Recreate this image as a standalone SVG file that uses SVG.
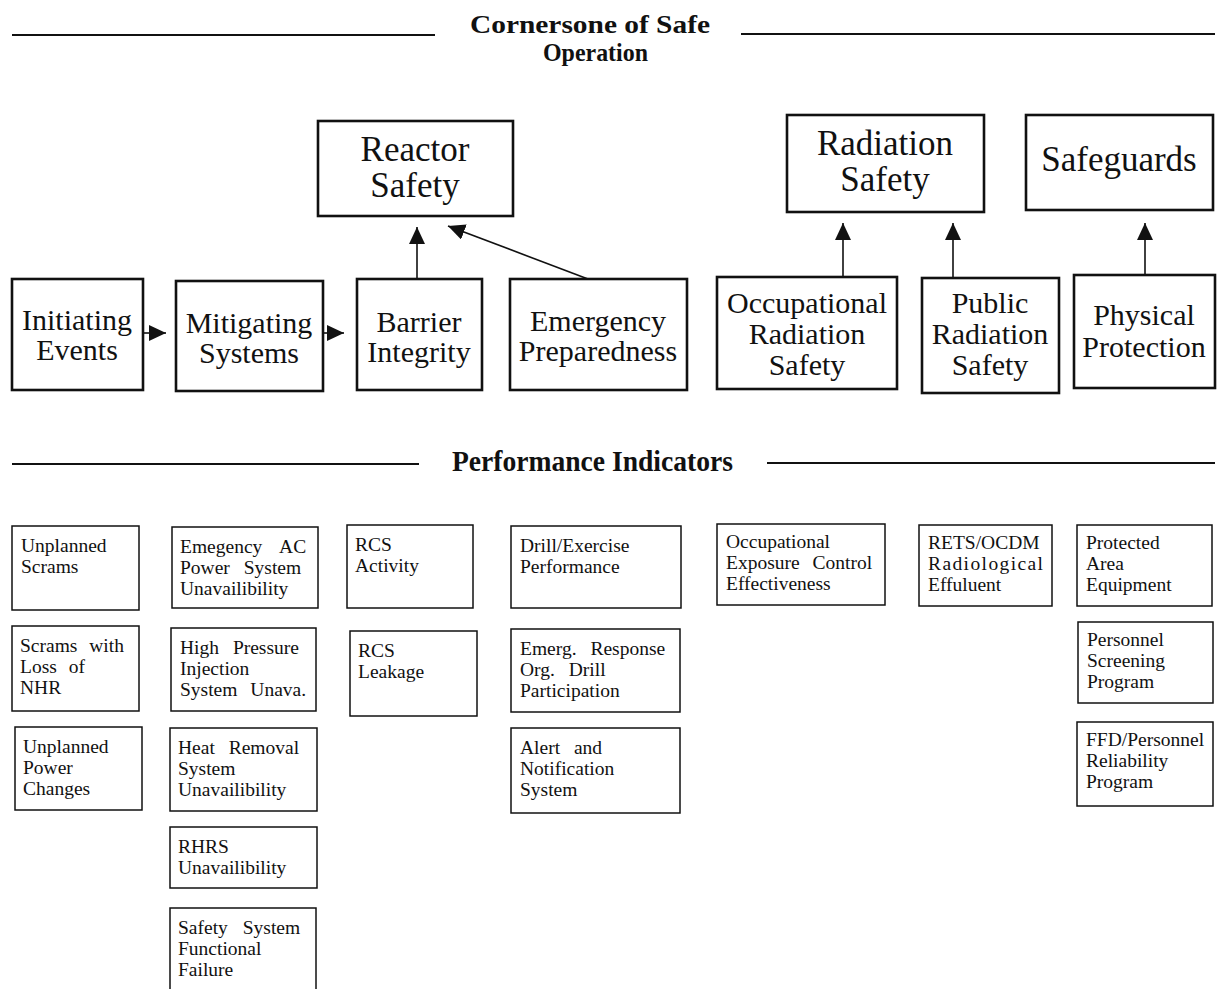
<svg xmlns="http://www.w3.org/2000/svg" width="1217" height="989" viewBox="0 0 1217 989">
  <style>
    .bg { fill: #ffffff; }
    .rule { stroke: #111; stroke-width: 2; fill: none; }
    .head { font-family: "Liberation Serif", "Times New Roman", serif; font-weight: bold; font-size: 26px; fill: #111; }
    .big { fill: #fff; stroke: #111; stroke-width: 2.6; }
    .mid { fill: #fff; stroke: #111; stroke-width: 2.6; }
    .pi { fill: #fff; stroke: #111; stroke-width: 1.5; }
    .t36 { font-family: "Liberation Serif", "Times New Roman", serif; font-size: 35px; fill: #111; text-anchor: middle; }
    .t30 { font-family: "Liberation Serif", "Times New Roman", serif; font-size: 30px; fill: #111; text-anchor: middle; }
    .t19 { font-family: "Liberation Serif", "Times New Roman", serif; font-size: 19.5px; fill: #111; word-spacing: 7px; }
    .conn { stroke: #111; stroke-width: 1.6; fill: none; }
  </style>
  <defs>
    <marker id="head" markerUnits="userSpaceOnUse" markerWidth="18" markerHeight="16" refX="17" refY="8" orient="auto">
      <path d="M0,0 L17,8 L0,16 Z" fill="#111"/>
    </marker>
  </defs>

  <rect class="bg" x="0" y="0" width="1217" height="989"/>

  <!-- section headings with rules -->
  <g id="heading-cornerstone">
    <line class="rule" x1="12" y1="35" x2="435" y2="35"/>
    <line class="rule" x1="741" y1="34" x2="1215" y2="34"/>
    <text class="head" x="470" y="33" textLength="240" lengthAdjust="spacingAndGlyphs">Cornersone of Safe</text>
    <text class="head" x="543" y="61" textLength="105" lengthAdjust="spacingAndGlyphs">Operation</text>
  </g>
  <g id="heading-indicators">
    <line class="rule" x1="12" y1="464" x2="419" y2="464"/>
    <line class="rule" x1="767" y1="463" x2="1215" y2="463"/>
    <text class="head" x="452" y="471" style="font-size:29px" textLength="281" lengthAdjust="spacingAndGlyphs">Performance Indicators</text>
  </g>

  <!-- strategic areas -->
  <g id="reactor-safety">
    <rect class="big" x="318" y="121" width="195" height="95"/>
    <text class="t36" x="415" y="161">Reactor</text>
    <text class="t36" x="415" y="197">Safety</text>
  </g>
  <g id="radiation-safety">
    <rect class="big" x="787" y="115" width="197" height="97"/>
    <text class="t36" x="885" y="155">Radiation</text>
    <text class="t36" x="885" y="191">Safety</text>
  </g>
  <g id="safeguards">
    <rect class="big" x="1026" y="115" width="187" height="95"/>
    <text class="t36" x="1119" y="171">Safeguards</text>
  </g>

  <!-- cornerstones -->
  <g id="initiating-events">
    <rect class="mid" x="12" y="279" width="131" height="111"/>
    <text class="t30" x="77" y="330">Initiating</text>
    <text class="t30" x="77" y="360">Events</text>
  </g>
  <g id="mitigating-systems">
    <rect class="mid" x="176" y="281" width="147" height="110"/>
    <text class="t30" x="249" y="333">Mitigating</text>
    <text class="t30" x="249" y="363">Systems</text>
  </g>
  <g id="barrier-integrity">
    <rect class="mid" x="357" y="279" width="125" height="111"/>
    <text class="t30" x="419" y="332">Barrier</text>
    <text class="t30" x="419" y="362">Integrity</text>
  </g>
  <g id="emergency-preparedness">
    <rect class="mid" x="510" y="279" width="177" height="111"/>
    <text class="t30" x="598" y="331">Emergency</text>
    <text class="t30" x="598" y="361">Preparedness</text>
  </g>
  <g id="occupational-radiation-safety">
    <rect class="mid" x="717" y="277" width="180" height="112"/>
    <text class="t30" x="807" y="313">Occupational</text>
    <text class="t30" x="807" y="344">Radiation</text>
    <text class="t30" x="807" y="375">Safety</text>
  </g>
  <g id="public-radiation-safety">
    <rect class="mid" x="922" y="278" width="137" height="115"/>
    <text class="t30" x="990" y="313">Public</text>
    <text class="t30" x="990" y="344">Radiation</text>
    <text class="t30" x="990" y="375">Safety</text>
  </g>
  <g id="physical-protection">
    <rect class="mid" x="1074" y="275" width="141" height="113"/>
    <text class="t30" x="1144" y="325">Physical</text>
    <text class="t30" x="1144" y="357">Protection</text>
  </g>

  <!-- connectors -->
  <g id="connectors">
    <line class="conn" x1="143" y1="333" x2="166" y2="333" marker-end="url(#head)"/>
    <line class="conn" x1="323" y1="333" x2="344" y2="333" marker-end="url(#head)"/>
    <line class="conn" x1="417" y1="279" x2="417" y2="227" marker-end="url(#head)"/>
    <line class="conn" x1="588" y1="279" x2="448" y2="226" marker-end="url(#head)"/>
    <line class="conn" x1="843" y1="277" x2="843" y2="223" marker-end="url(#head)"/>
    <line class="conn" x1="953" y1="278" x2="953" y2="223" marker-end="url(#head)"/>
    <line class="conn" x1="1145" y1="275" x2="1145" y2="223" marker-end="url(#head)"/>
  </g>

  <!-- performance indicators: initiating events -->
  <g id="pi-unplanned-scrams">
    <rect class="pi" x="12" y="526" width="127" height="84"/>
    <text class="t19" x="21" y="552">Unplanned</text>
    <text class="t19" x="21" y="573">Scrams</text>
  </g>
  <g id="pi-scrams-loss-nhr">
    <rect class="pi" x="12" y="626" width="127" height="85"/>
    <text class="t19" x="20" y="652">Scrams with</text>
    <text class="t19" x="20" y="673">Loss of</text>
    <text class="t19" x="20" y="694">NHR</text>
  </g>
  <g id="pi-unplanned-power-changes">
    <rect class="pi" x="15" y="727" width="127" height="83"/>
    <text class="t19" x="23" y="753">Unplanned</text>
    <text class="t19" x="23" y="774">Power</text>
    <text class="t19" x="23" y="795">Changes</text>
  </g>

  <!-- performance indicators: mitigating systems -->
  <g id="pi-emergency-ac">
    <rect class="pi" x="172" y="527" width="146" height="81"/>
    <text class="t19" x="180" y="553" style="word-spacing:13px">Emegency AC</text>
    <text class="t19" x="180" y="574" style="word-spacing:9px">Power System</text>
    <text class="t19" x="180" y="595">Unavailibility</text>
  </g>
  <g id="pi-hpi">
    <rect class="pi" x="171" y="628" width="145" height="83"/>
    <text class="t19" x="180" y="654" style="word-spacing:9px">High Pressure</text>
    <text class="t19" x="180" y="675">Injection</text>
    <text class="t19" x="180" y="696" style="word-spacing:8px">System Unava.</text>
  </g>
  <g id="pi-heat-removal">
    <rect class="pi" x="170" y="728" width="147" height="83"/>
    <text class="t19" x="178" y="754" style="word-spacing:9px">Heat Removal</text>
    <text class="t19" x="178" y="775">System</text>
    <text class="t19" x="178" y="796">Unavailibility</text>
  </g>
  <g id="pi-rhrs">
    <rect class="pi" x="170" y="827" width="147" height="61"/>
    <text class="t19" x="178" y="853">RHRS</text>
    <text class="t19" x="178" y="874">Unavailibility</text>
  </g>
  <g id="pi-ssff">
    <rect class="pi" x="170" y="908" width="146" height="92"/>
    <text class="t19" x="178" y="934" style="word-spacing:10px">Safety System</text>
    <text class="t19" x="178" y="955">Functional</text>
    <text class="t19" x="178" y="976">Failure</text>
  </g>

  <!-- performance indicators: barrier integrity -->
  <g id="pi-rcs-activity">
    <rect class="pi" x="347" y="525" width="126" height="83"/>
    <text class="t19" x="355" y="551">RCS</text>
    <text class="t19" x="355" y="572">Activity</text>
  </g>
  <g id="pi-rcs-leakage">
    <rect class="pi" x="350" y="631" width="127" height="85"/>
    <text class="t19" x="358" y="657">RCS</text>
    <text class="t19" x="358" y="678">Leakage</text>
  </g>

  <!-- performance indicators: emergency preparedness -->
  <g id="pi-drill-exercise">
    <rect class="pi" x="511" y="526" width="170" height="82"/>
    <text class="t19" x="520" y="552">Drill/Exercise</text>
    <text class="t19" x="520" y="573">Performance</text>
  </g>
  <g id="pi-ero-drill">
    <rect class="pi" x="511" y="629" width="169" height="83"/>
    <text class="t19" x="520" y="655" style="word-spacing:9px">Emerg. Response</text>
    <text class="t19" x="520" y="676" style="word-spacing:9px">Org. Drill</text>
    <text class="t19" x="520" y="697">Participation</text>
  </g>
  <g id="pi-alert-notification">
    <rect class="pi" x="511" y="728" width="169" height="85"/>
    <text class="t19" x="520" y="754" style="word-spacing:9px">Alert and</text>
    <text class="t19" x="520" y="775">Notification</text>
    <text class="t19" x="520" y="796">System</text>
  </g>

  <!-- performance indicators: radiation safety -->
  <g id="pi-occupational-exposure">
    <rect class="pi" x="717" y="524" width="168" height="81"/>
    <text class="t19" x="726" y="548">Occupational</text>
    <text class="t19" x="726" y="569" style="word-spacing:8px">Exposure Control</text>
    <text class="t19" x="726" y="590">Effectiveness</text>
  </g>
  <g id="pi-rets-odcm">
    <rect class="pi" x="919" y="525" width="133" height="81"/>
    <text class="t19" x="928" y="549">RETS/OCDM</text>
    <text class="t19" x="928" y="570" style="letter-spacing:1.4px">Radiological</text>
    <text class="t19" x="928" y="591">Effuluent</text>
  </g>

  <!-- performance indicators: safeguards -->
  <g id="pi-protected-area">
    <rect class="pi" x="1077" y="525" width="135" height="81"/>
    <text class="t19" x="1086" y="549">Protected</text>
    <text class="t19" x="1086" y="570">Area</text>
    <text class="t19" x="1086" y="591">Equipment</text>
  </g>
  <g id="pi-personnel-screening">
    <rect class="pi" x="1078" y="622" width="135" height="81"/>
    <text class="t19" x="1087" y="646">Personnel</text>
    <text class="t19" x="1087" y="667">Screening</text>
    <text class="t19" x="1087" y="688">Program</text>
  </g>
  <g id="pi-ffd">
    <rect class="pi" x="1077" y="722" width="136" height="84"/>
    <text class="t19" x="1086" y="746">FFD/Personnel</text>
    <text class="t19" x="1086" y="767">Reliability</text>
    <text class="t19" x="1086" y="788">Program</text>
  </g>
</svg>
